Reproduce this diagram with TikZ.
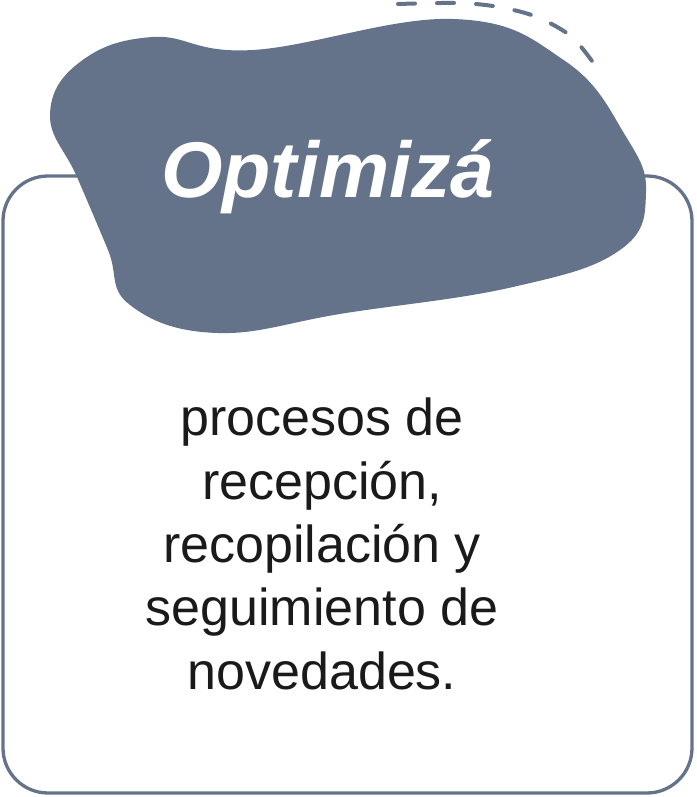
\documentclass[tikz,border=0pt]{standalone}
\usepackage{fontspec}
\setmainfont{Liberation Sans}
\definecolor{slate}{RGB}{100,115,137}
\definecolor{ink}{RGB}{26,26,26}

\begin{document}
\begin{tikzpicture}[x=1pt, y=1pt]
    \useasboundingbox (0,0) rectangle (696,797);

    % card
    \draw[slate, line width=3.3pt, rounded corners=45pt] (3,4) rectangle (692,621);

    % blob behind the title
    \fill[slate] plot[smooth cycle, tension=0.7] coordinates {
        (153,760) (253,747) (453,778) (565,736) (625,662) (646,604)
        (620,547) (513,510) (346,484) (217,464) (130,492) (108,547)
        (77,620) (50,682) (80,735)};

    % dashed arc
    \draw[slate, line width=4pt, line cap=round, dash pattern=on 17pt off 22pt]
        plot[smooth] coordinates {(398,793) (459,794) (499,790) (537,780) (572,760) (597,729)};

    \node[white, font=\fontsize{79}{90}\selectfont\bfseries\itshape, anchor=base] (title) at (328,599) {Optimizá};
    \node[ink, font=\fontsize{52}{63.3}\selectfont, align=center] (body) at (322,253)
        {procesos de\\recepción,\\recopilación y\\seguimiento de\\novedades.};
\end{tikzpicture}
\end{document}
